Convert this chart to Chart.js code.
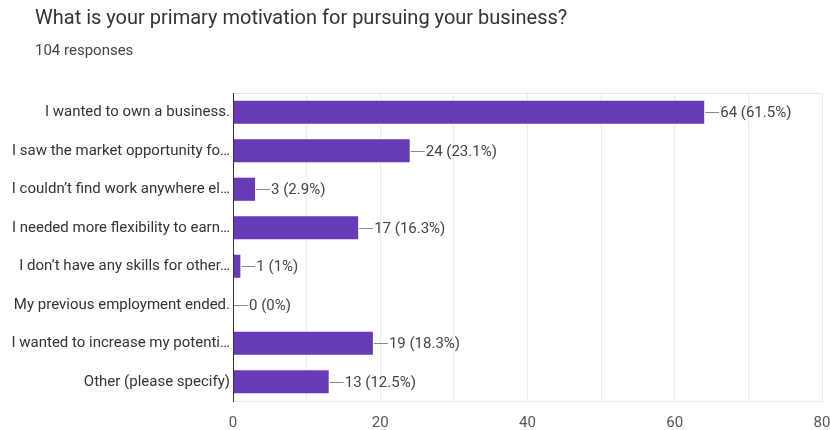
<!DOCTYPE html>
<html>
<head>
<meta charset="utf-8">
<script src="https://cdn.jsdelivr.net/npm/chart.js@4"></script>
<style>
    body { margin: 0; background: #fff; font-family: Roboto, sans-serif; }
    #wrap { position: relative; width: 830px; height: 430px; }
    #title { position: absolute; left: 35px; top: 5px; font-size: 20px; color: #333; }
    #sub { position: absolute; left: 35px; top: 41px; font-size: 15px; color: #444; }
</style>
</head>
<body>
<div id="wrap">
    <div id="title">What is your primary motivation for pursuing your business?</div>
    <div id="sub">104 responses</div>
    <canvas id="chart"></canvas>
</div>
<script>
// Data
const totalResponses = 104;
const categories = [
    'I wanted to own a business.',
    'I saw the market opportunity fo\u2026',
    'I couldn\u2019t find work anywhere el\u2026',
    'I needed more flexibility to earn\u2026',
    'I don\u2019t have any skills for other\u2026',
    'My previous employment ended.',
    'I wanted to increase my potenti\u2026',
    'Other (please specify)'
];
const counts = [64, 24, 3, 17, 1, 0, 19, 13];
const xTicks = [0, 20, 40, 60, 80];

// Value labels with a short leader line
const valueLabels = {
    id: 'valueLabels',
    afterDatasetsDraw(chart) {
        const ctx = chart.ctx;
        const meta = chart.getDatasetMeta(0);
        ctx.save();
        ctx.font = '15px Roboto';
        ctx.textBaseline = 'middle';
        meta.data.forEach((bar, i) => {
            const v = counts[i];
            const pct = Number((v / totalResponses * 100).toFixed(1));
            ctx.strokeStyle = '#888';
            ctx.lineWidth = 1;
            ctx.beginPath();
            ctx.moveTo(bar.x + 1, Math.round(bar.y) + 0.5);
            ctx.lineTo(bar.x + 15, Math.round(bar.y) + 0.5);
            ctx.stroke();
            ctx.fillStyle = '#444';
            ctx.fillText(v + ' (' + pct + '%)', bar.x + 16, bar.y + 1);
        });
        ctx.restore();
    }
};

// Frame: light top line and dark left axis
const frame = {
    id: 'frame',
    afterDraw(chart) {
        const { ctx, chartArea: a } = chart;
        ctx.save();
        ctx.strokeStyle = '#e6e6e6';
        ctx.beginPath();
        ctx.moveTo(a.left, a.top + 0.5);
        ctx.lineTo(a.right, a.top + 0.5);
        ctx.stroke();
        ctx.strokeStyle = '#333';
        ctx.beginPath();
        ctx.moveTo(a.left + 0.5, a.top);
        ctx.lineTo(a.left + 0.5, a.bottom);
        ctx.stroke();
        ctx.restore();
    }
};

new Chart(document.getElementById('chart'), {
    type: 'bar',
    data: {
        labels: categories,
        datasets: [{
            data: counts,
            backgroundColor: '#673ab7',
            barPercentage: 0.6,
            categoryPercentage: 1
        }]
    },
    options: {
        indexAxis: 'y',
        responsive: true,
        maintainAspectRatio: false,
        animation: false,
        layout: { padding: { top: 93, right: 8, bottom: 0, left: 0 } },
        plugins: {
            legend: { display: false },
            tooltip: { enabled: false }
        },
        scales: {
            x: {
                min: 0,
                max: 80,
                ticks: {
                    stepSize: 10,
                    autoSkip: false,
                    maxRotation: 0,
                    padding: 13,
                    color: '#555',
                    font: { family: 'Roboto', size: 15 },
                    callback: v => xTicks.includes(v) ? v : ''
                },
                grid: { color: '#ebebeb', drawTicks: false },
                border: { color: '#ebebeb' },
                afterFit(scale) {
                    scale.height = 29;
                    scale.paddingRight = 0;
                    scale.paddingLeft = 0;
                }
            },
            y: {
                ticks: {
                    padding: 3,
                    color: '#333',
                    font: { family: 'Roboto', size: 15 }
                },
                grid: { display: false, drawTicks: false },
                border: { color: '#333' },
                afterFit(scale) { scale.width = 233; }
            }
        }
    },
    plugins: [valueLabels, frame]
});
</script>
</body>
</html>
